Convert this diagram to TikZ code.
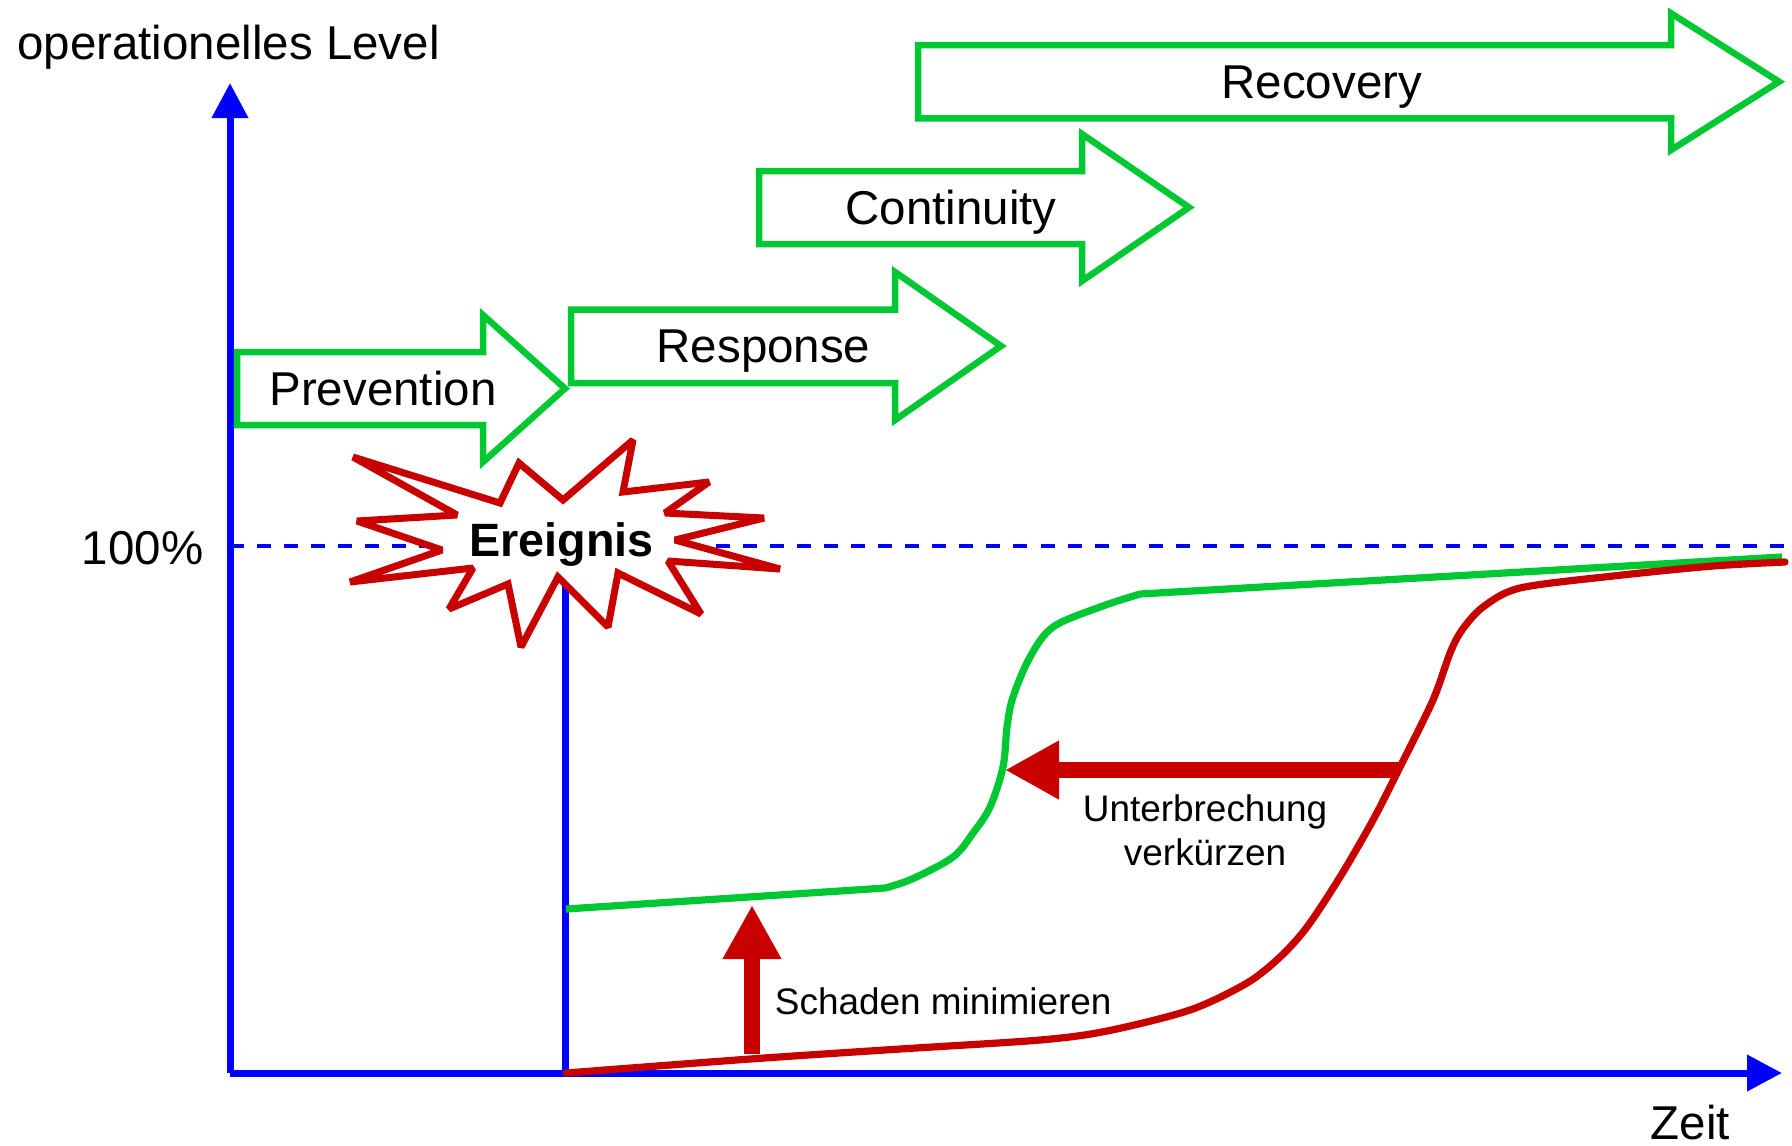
\documentclass[tikz,border=0pt]{standalone}
\usepackage{fontspec}
\setmainfont{Liberation Sans}
\usetikzlibrary{arrows.meta}
\definecolor{phasegreen}{RGB}{0,200,50}
\definecolor{lossred}{RGB}{200,0,0}
\definecolor{axisblue}{RGB}{0,0,255}
\tikzset{levelaxis/.style = {draw=axisblue, line width = 0.07cm, -{Triangle[length = 0.35cm, width = 0.35cm]}}}
\tikzset{phase/.style = {draw=phasegreen, fill=white, line width = 0.065cm, line join = miter}}
\tikzset{bigtext/.style = {font=\fontsize{13.5}{16}\selectfont, inner sep = 0}}
\tikzset{smalltext/.style = {font=\fontsize{10.5}{12.4}\selectfont, inner sep = 0, align = center}}
\tikzset{gain/.style = {draw=lossred, line width = 0.16cm, -{Triangle[length = 0.54cm, width = 0.55cm]}}}

\begin{document}
\begin{tikzpicture}[x=0.01cm, y=-0.01cm]
      \useasboundingbox (0, 0) rectangle (1792, 1145);
      \coordinate (origin) at (230, 1073);
      \coordinate (ytop) at (230, 83);
      \coordinate (xend) at (1782, 1073);
      \coordinate (event) at (565, 1073);
      \draw [axisblue, line width = 0.04cm, dash pattern = on 0.14cm off 0.13cm] (230, 546) -- (1792, 546);
      \draw [levelaxis] (origin) -- (ytop);
      \draw [levelaxis] (origin) -- (xend);
      \draw [axisblue, line width = 0.07cm] (event) -- (565, 560);
      \draw [phasegreen, line width = 0.072cm] (566, 909) -- (885, 888) -- plot [smooth, tension = 0.55] coordinates {(885, 888) (912, 879) (953, 857) (973, 833) (990, 807) (1003, 767) (1007, 727) (1013, 697) (1030, 657) (1053, 627) (1100, 607) (1140, 594)} -- (1782, 557);
      \draw [lossred, line width = 0.072cm, line cap = round] plot [smooth, tension = 0.5] coordinates {(566, 1073) (750, 1059) (900, 1049) (1040, 1040) (1107, 1031) (1190, 1010) (1247, 983) (1280, 957) (1307, 927) (1340, 877) (1373, 820) (1400, 767) (1433, 700) (1450, 653) (1462, 630) (1483, 607) (1520, 588) (1613, 576) (1713, 566) (1785, 562)};
      \coordinate (lowstart) at (752, 1054);
      \coordinate (lowend) at (752, 905);
      \coordinate (slowstart) at (1398, 770);
      \coordinate (slowend) at (1005, 770);
      \draw [gain] (lowstart) -- (lowend);
      \draw [gain] (slowstart) -- (slowend);
      \draw [lossred, fill = white, line width = 0.07cm, line join = miter, miter limit = 2] (353, 457) -- (500, 503) -- (519, 463) -- (563, 500) -- (633, 440) -- (623, 492) -- (709, 482) -- (665, 513) -- (764, 518) -- (675, 540) -- (780, 569) -- (668, 561) -- (701, 614) -- (618, 573) -- (608, 627) -- (558, 577) -- (521, 647) -- (508, 584) -- (449, 609) -- (473, 568) -- (350, 582) -- (442, 550) -- (357, 521) -- (457, 515) -- cycle;
      \draw [phase] (237, 352) -- (483, 352) -- (483, 315) -- (565, 388.5) -- (483, 462) -- (483, 425) -- (237, 425) -- cycle;
      \draw [phase] (571, 309.7) -- (895, 309.7) -- (895, 272) -- (1001, 346) -- (895, 420) -- (895, 383) -- (571, 383) -- cycle;
      \draw [phase] (759, 171) -- (1082, 171) -- (1082, 134) -- (1189, 207.4) -- (1082, 281) -- (1082, 244) -- (759, 244) -- cycle;
      \draw [phase] (918, 45) -- (1671, 45) -- (1671, 13.3) -- (1779, 81.7) -- (1671, 150) -- (1671, 118.3) -- (918, 118.3) -- cycle;
      \node [bigtext, anchor = base west] (ylabel) at (16.7, 59.3) {operationelles Level};
      \node [bigtext, anchor = base] (xlabel) at (1690.5, 1139.3) {Zeit};
      \node [bigtext, anchor = base east] (full) at (204, 564) {100\%};
      \node [bigtext, anchor = base] (prevention) at (383, 405) {Prevention};
      \node [bigtext, anchor = base] (response) at (763.5, 362.8) {Response};
      \node [bigtext, anchor = base] (continuity) at (951, 224) {Continuity};
      \node [bigtext, anchor = base] (recovery) at (1321.7, 98.2) {Recovery};
      \node [bigtext, anchor = base, font = \fontsize{13.3}{16}\selectfont\bfseries] (ereignis) at (561.5, 556.7) {Ereignis};
      \node [smalltext, anchor = base west] (damage) at (774.2, 1014) {Schaden minimieren};
      \node [smalltext] (shorten) at (1205, 830) {Unterbrechung\\verkürzen};
    \end{tikzpicture}
\end{document}
